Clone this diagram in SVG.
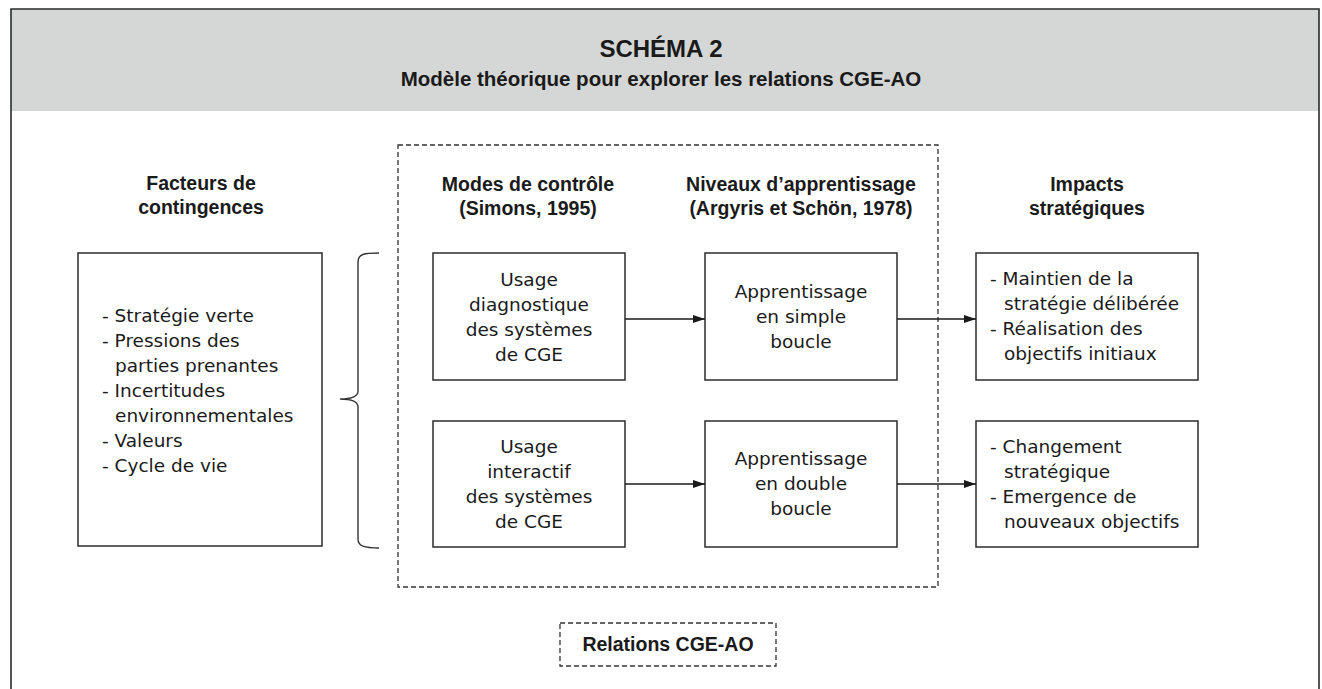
<svg xmlns="http://www.w3.org/2000/svg" width="1322" height="689" viewBox="0 0 1322 689">
<defs>
<style>
.frame{fill:none;stroke:#2b2b2b;stroke-width:1.6}
.box{fill:#fff;stroke:#2b2b2b;stroke-width:1.5}
.dash{fill:none;stroke:#333;stroke-width:1.3;stroke-dasharray:5,3}
.h{font-family:"Liberation Sans",Arial,sans-serif;font-weight:bold;font-size:19.5px;fill:#1a1a1a;text-anchor:middle}
.t{font-family:"DejaVu Sans","Liberation Sans",sans-serif;font-size:18.5px;fill:#1a1a1a}
.c{text-anchor:middle}
.conn{fill:none;stroke:#1a1a1a;stroke-width:1.5}
.brace{fill:none;stroke:#333;stroke-width:1.4}
</style>
<marker id="arr" markerWidth="13" markerHeight="9" refX="12" refY="4.5" orient="auto" markerUnits="userSpaceOnUse">
<path d="M0,0.5 L12,4.5 L0,8.5 Z" fill="#1a1a1a"/>
</marker>
</defs>
<rect x="0" y="0" width="1322" height="689" fill="#fff"/>
<g id="header">
<rect x="11" y="9" width="1308" height="102" fill="#d5d7d6"/>
<path class="frame" d="M11,689 L11,9 L1319,9 L1319,689"/>
<text x="661" y="57" font-family="Liberation Sans,Arial,sans-serif" font-weight="bold" font-size="24" fill="#1a1a1a" text-anchor="middle">SCHÉMA 2</text>
<text x="661" y="86" font-family="Liberation Sans,Arial,sans-serif" font-weight="bold" font-size="20.5" fill="#1a1a1a" text-anchor="middle">Modèle théorique pour explorer les relations CGE-AO</text>
</g>
<g id="relations-group">
<rect class="dash" x="398" y="145" width="540" height="442"/>
</g>
<g id="headings">
<text class="h" x="201" y="190">Facteurs de</text>
<text class="h" x="201" y="214">contingences</text>
<text class="h" x="528" y="191">Modes de contrôle</text>
<text class="h" x="528" y="215">(Simons, 1995)</text>
<text class="h" x="801" y="191">Niveaux d’apprentissage</text>
<text class="h" x="801" y="215">(Argyris et Schön, 1978)</text>
<text class="h" x="1087" y="191">Impacts</text>
<text class="h" x="1087" y="215">stratégiques</text>
</g>
<g id="facteurs">
<rect class="box" x="78" y="253" width="244" height="293"/>
<text class="t" x="102" y="322">- Stratégie verte</text>
<text class="t" x="102" y="347">- Pressions des</text>
<text class="t" x="115" y="372">parties prenantes</text>
<text class="t" x="102" y="397">- Incertitudes</text>
<text class="t" x="115" y="422">environnementales</text>
<text class="t" x="102" y="447">- Valeurs</text>
<text class="t" x="102" y="472">- Cycle de vie</text>
</g>
<g id="brace">
<path class="brace" d="M379,253 C364,253 358,254 358,262 L358,391 C358,397 352,399 340,399 C352,399 358,401 358,407 L358,539 C358,546 364,548 379,548"/>
</g>
<g id="usage-diagnostique">
<rect class="box" x="433" y="253" width="192" height="127"/>
<text class="t c" x="529" y="286">Usage</text>
<text class="t c" x="529" y="311">diagnostique</text>
<text class="t c" x="529" y="336">des systèmes</text>
<text class="t c" x="529" y="361">de CGE</text>
</g>
<g id="usage-interactif">
<rect class="box" x="433" y="421" width="192" height="126"/>
<text class="t c" x="529" y="453">Usage</text>
<text class="t c" x="529" y="478">interactif</text>
<text class="t c" x="529" y="503">des systèmes</text>
<text class="t c" x="529" y="528">de CGE</text>
</g>
<g id="apprentissage-simple">
<rect class="box" x="705" y="253" width="192" height="127"/>
<text class="t c" x="801" y="298">Apprentissage</text>
<text class="t c" x="801" y="323">en simple</text>
<text class="t c" x="801" y="348">boucle</text>
</g>
<g id="apprentissage-double">
<rect class="box" x="705" y="421" width="192" height="126"/>
<text class="t c" x="801" y="465">Apprentissage</text>
<text class="t c" x="801" y="490">en double</text>
<text class="t c" x="801" y="515">boucle</text>
</g>
<g id="impacts-maintien">
<rect class="box" x="976" y="253" width="222" height="127"/>
<text class="t" x="990" y="285">- Maintien de la</text>
<text class="t" x="1004" y="310">stratégie délibérée</text>
<text class="t" x="990" y="335">- Réalisation des</text>
<text class="t" x="1004" y="360">objectifs initiaux</text>
</g>
<g id="impacts-changement">
<rect class="box" x="976" y="421" width="222" height="126"/>
<text class="t" x="990" y="453">- Changement</text>
<text class="t" x="1004" y="478">stratégique</text>
<text class="t" x="990" y="503">- Emergence de</text>
<text class="t" x="1004" y="528">nouveaux objectifs</text>
</g>
<g id="connectors">
<line class="conn" x1="625" y1="319" x2="705" y2="319" marker-end="url(#arr)"/>
<line class="conn" x1="625" y1="484" x2="705" y2="484" marker-end="url(#arr)"/>
<line class="conn" x1="897" y1="319" x2="976" y2="319" marker-end="url(#arr)"/>
<line class="conn" x1="897" y1="484" x2="976" y2="484" marker-end="url(#arr)"/>
</g>
<g id="relations-label">
<rect class="dash" x="560" y="623" width="216" height="43"/>
<text class="h" x="668" y="651">Relations CGE-AO</text>
</g>
</svg>
